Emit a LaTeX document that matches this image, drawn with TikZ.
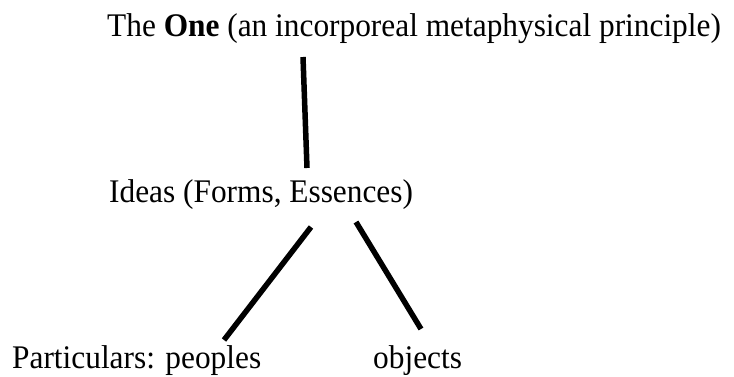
\documentclass[tikz,border=0pt]{standalone}
\usepackage{fontspec}
\setmainfont{Liberation Serif}[FakeStretch=0.95]
\begin{document}
\begin{tikzpicture}[x=1pt,y=-1pt,
  lbl/.style={anchor=base west,inner sep=0pt,font=\fontsize{33}{38}\selectfont},
  conn/.style={line width=5.5pt,line cap=butt}]
\useasboundingbox (0,0) rectangle (734,376);
\node[lbl] (one) at (107,36) {The \textbf{One} (an incorporeal metaphysical principle)};
\node[lbl] (ideas) at (109,202) {Ideas (Forms, Essences)};
\node[lbl] (part) at (12,368) {Particulars: peoples};
\node[lbl] (obj) at (373,368) {objects};
\coordinate (oneb) at (303,57);
\coordinate (ideast) at (307,168);
\coordinate (ideasl) at (311,227);
\coordinate (ideasr) at (356,222);
\coordinate (partt) at (224,340);
\coordinate (objt) at (421,329);
\draw[conn] (oneb) -- (ideast);
\draw[conn] (ideasl) -- (partt);
\draw[conn] (ideasr) -- (objt);
\end{tikzpicture}
\end{document}
